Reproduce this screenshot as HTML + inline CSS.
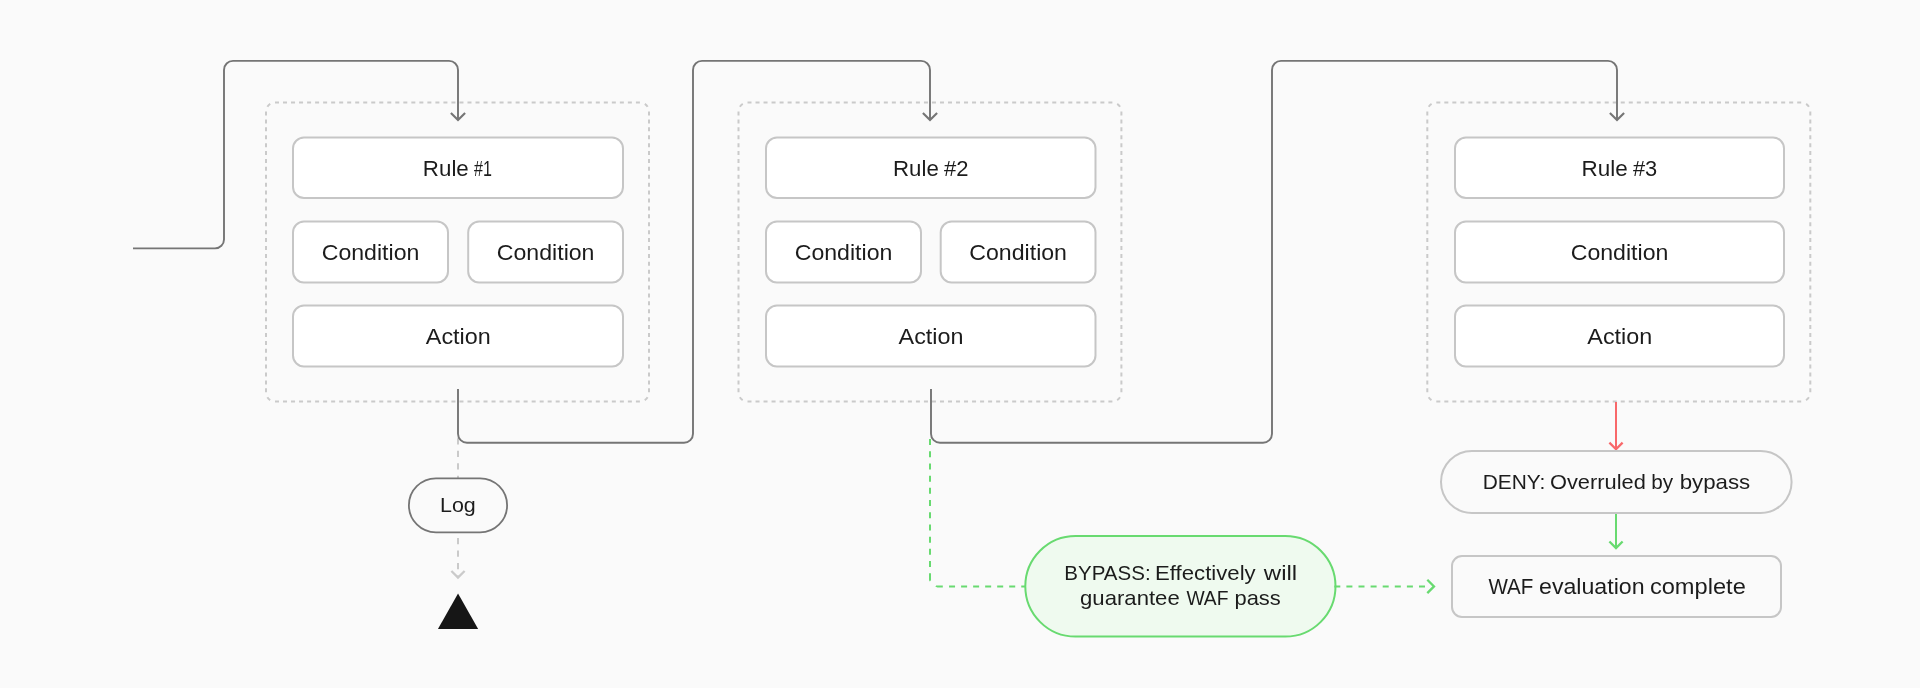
<!DOCTYPE html>
<html><head><meta charset="utf-8"><title>WAF rule evaluation</title>
<style>
html,body{margin:0;padding:0;background:#fafafa;}
body{width:1920px;height:688px;overflow:hidden;}
svg{display:block;will-change:transform;}
text{font-family:"Liberation Sans",sans-serif;fill:#1c1c1c;}
</style></head><body>
<svg width="1920" height="688" viewBox="0 0 1920 688">
<rect width="1920" height="688" fill="#fafafa"/>
<path d="M275 102.5H640" fill="none" stroke="#cacaca" stroke-width="2" stroke-dasharray="4 4.02"/>
<path d="M275 401.5H640" fill="none" stroke="#cacaca" stroke-width="2" stroke-dasharray="4 4.02"/>
<path d="M266 111.5V392.5" fill="none" stroke="#cacaca" stroke-width="2" stroke-dasharray="4 3.91"/>
<path d="M649 111.5V392.5" fill="none" stroke="#cacaca" stroke-width="2" stroke-dasharray="4 3.91"/>
<path d="M266 111.5A9 9 0 0 1 275 102.5" fill="none" stroke="#cacaca" stroke-width="2" stroke-dasharray="0 5.07 4 99"/>
<path d="M640 102.5A9 9 0 0 1 649 111.5" fill="none" stroke="#cacaca" stroke-width="2" stroke-dasharray="0 5.07 4 99"/>
<path d="M649 392.5A9 9 0 0 1 640 401.5" fill="none" stroke="#cacaca" stroke-width="2" stroke-dasharray="0 5.07 4 99"/>
<path d="M275 401.5A9 9 0 0 1 266 392.5" fill="none" stroke="#cacaca" stroke-width="2" stroke-dasharray="0 5.07 4 99"/>
<path d="M747.5 102.5H1112.4" fill="none" stroke="#cacaca" stroke-width="2" stroke-dasharray="4 4.02"/>
<path d="M747.5 401.5H1112.4" fill="none" stroke="#cacaca" stroke-width="2" stroke-dasharray="4 4.02"/>
<path d="M738.5 111.5V392.5" fill="none" stroke="#cacaca" stroke-width="2" stroke-dasharray="4 3.91"/>
<path d="M1121.4 111.5V392.5" fill="none" stroke="#cacaca" stroke-width="2" stroke-dasharray="4 3.91"/>
<path d="M738.5 111.5A9 9 0 0 1 747.5 102.5" fill="none" stroke="#cacaca" stroke-width="2" stroke-dasharray="0 5.07 4 99"/>
<path d="M1112.4 102.5A9 9 0 0 1 1121.4 111.5" fill="none" stroke="#cacaca" stroke-width="2" stroke-dasharray="0 5.07 4 99"/>
<path d="M1121.4 392.5A9 9 0 0 1 1112.4 401.5" fill="none" stroke="#cacaca" stroke-width="2" stroke-dasharray="0 5.07 4 99"/>
<path d="M747.5 401.5A9 9 0 0 1 738.5 392.5" fill="none" stroke="#cacaca" stroke-width="2" stroke-dasharray="0 5.07 4 99"/>
<path d="M1436.3 102.5H1801.3" fill="none" stroke="#cacaca" stroke-width="2" stroke-dasharray="4 4.02"/>
<path d="M1436.3 401.5H1801.3" fill="none" stroke="#cacaca" stroke-width="2" stroke-dasharray="4 4.02"/>
<path d="M1427.3 111.5V392.5" fill="none" stroke="#cacaca" stroke-width="2" stroke-dasharray="4 3.91"/>
<path d="M1810.3 111.5V392.5" fill="none" stroke="#cacaca" stroke-width="2" stroke-dasharray="4 3.91"/>
<path d="M1427.3 111.5A9 9 0 0 1 1436.3 102.5" fill="none" stroke="#cacaca" stroke-width="2" stroke-dasharray="0 5.07 4 99"/>
<path d="M1801.3 102.5A9 9 0 0 1 1810.3 111.5" fill="none" stroke="#cacaca" stroke-width="2" stroke-dasharray="0 5.07 4 99"/>
<path d="M1810.3 392.5A9 9 0 0 1 1801.3 401.5" fill="none" stroke="#cacaca" stroke-width="2" stroke-dasharray="0 5.07 4 99"/>
<path d="M1436.3 401.5A9 9 0 0 1 1427.3 392.5" fill="none" stroke="#cacaca" stroke-width="2" stroke-dasharray="0 5.07 4 99"/>
<rect x="293" y="137.5" width="330" height="60.5" rx="11" ry="11" fill="#fff" stroke="#c6c6c6" stroke-width="2" />
<text x="422.87" y="176" font-size="22.5" textLength="45.9" lengthAdjust="spacingAndGlyphs">Rule</text>
<text x="474.04" y="176" font-size="22.5" textLength="17.86" lengthAdjust="spacingAndGlyphs">#1</text>
<rect x="293" y="221.5" width="155" height="61" rx="11" ry="11" fill="#fff" stroke="#c6c6c6" stroke-width="2" />
<rect x="468.2" y="221.5" width="154.8" height="61" rx="11" ry="11" fill="#fff" stroke="#c6c6c6" stroke-width="2" />
<text x="321.72" y="260" font-size="22.5" textLength="97.68" lengthAdjust="spacingAndGlyphs">Condition</text>
<text x="496.82" y="260" font-size="22.5" textLength="97.68" lengthAdjust="spacingAndGlyphs">Condition</text>
<rect x="293" y="305.5" width="330" height="61" rx="11" ry="11" fill="#fff" stroke="#c6c6c6" stroke-width="2" />
<text x="425.85" y="343.8" font-size="22.5" textLength="64.92" lengthAdjust="spacingAndGlyphs">Action</text>
<rect x="766" y="137.5" width="329.5" height="60.5" rx="11" ry="11" fill="#fff" stroke="#c6c6c6" stroke-width="2" />
<text x="892.97" y="176" font-size="22.5" textLength="45.8" lengthAdjust="spacingAndGlyphs">Rule</text>
<text x="944.01" y="176" font-size="22.5" textLength="24.5" lengthAdjust="spacingAndGlyphs">#2</text>
<rect x="766" y="221.5" width="155" height="61" rx="11" ry="11" fill="#fff" stroke="#c6c6c6" stroke-width="2" />
<rect x="940.7" y="221.5" width="154.8" height="61" rx="11" ry="11" fill="#fff" stroke="#c6c6c6" stroke-width="2" />
<text x="794.72" y="260" font-size="22.5" textLength="97.68" lengthAdjust="spacingAndGlyphs">Condition</text>
<text x="969.32" y="260" font-size="22.5" textLength="97.68" lengthAdjust="spacingAndGlyphs">Condition</text>
<rect x="766" y="305.5" width="329.5" height="61" rx="11" ry="11" fill="#fff" stroke="#c6c6c6" stroke-width="2" />
<text x="898.6" y="343.8" font-size="22.5" textLength="64.92" lengthAdjust="spacingAndGlyphs">Action</text>
<rect x="1455" y="137.5" width="329" height="60.5" rx="11" ry="11" fill="#fff" stroke="#c6c6c6" stroke-width="2" />
<text x="1581.56" y="176" font-size="22.5" textLength="46.17" lengthAdjust="spacingAndGlyphs">Rule</text>
<text x="1632.91" y="176" font-size="22.5" textLength="24.31" lengthAdjust="spacingAndGlyphs">#3</text>
<rect x="1455" y="221.5" width="329" height="61" rx="11" ry="11" fill="#fff" stroke="#c6c6c6" stroke-width="2" />
<text x="1570.72" y="260" font-size="22.5" textLength="97.68" lengthAdjust="spacingAndGlyphs">Condition</text>
<rect x="1455" y="305.5" width="329" height="61" rx="11" ry="11" fill="#fff" stroke="#c6c6c6" stroke-width="2" />
<text x="1587.35" y="343.8" font-size="22.5" textLength="64.92" lengthAdjust="spacingAndGlyphs">Action</text>
<path d="M458 438.3V478" fill="none" stroke="#cacaca" stroke-width="2" stroke-dasharray="6.25 6.25"/>
<path d="M458 537.9V577" fill="none" stroke="#cacaca" stroke-width="2" stroke-dasharray="6.25 6.25"/>
<path d="M451.4 571L458 577.6L464.6 571" fill="none" stroke="#cacaca" stroke-width="2.3"/>
<path d="M930 439.05V579.3" fill="none" stroke="#68da70" stroke-width="2" stroke-dasharray="6 6.2"/>
<path d="M930 578.5V579.4Q930 580.3 930.5 580.7" fill="none" stroke="#68da70" stroke-width="2" />
<path d="M936 585.9Q936.5 586.4 937.5 586.4H942.8" fill="none" stroke="#68da70" stroke-width="2" />
<path d="M949.06 586.4H1025" fill="none" stroke="#68da70" stroke-width="2" stroke-dasharray="6 6.03"/>
<path d="M133 248.4H215a9 9 0 0 0 9 -9V69.9a9 9 0 0 1 9 -9H449a9 9 0 0 1 9 9V119.6" fill="none" stroke="#757575" stroke-width="1.9" />
<path d="M450.9 113L458 120.1L465.1 113" fill="none" stroke="#757575" stroke-width="2.15"/>
<path d="M458 389V433.7a9 9 0 0 0 9 9H684a9 9 0 0 0 9 -9V69.9a9 9 0 0 1 9 -9H921a9 9 0 0 1 9 9V119.6" fill="none" stroke="#757575" stroke-width="1.9" />
<path d="M922.9 113L930 120.1L937.1 113" fill="none" stroke="#757575" stroke-width="2.15"/>
<path d="M931 389V433.7a9 9 0 0 0 9 9H1263a9 9 0 0 0 9 -9V69.9a9 9 0 0 1 9 -9H1608a9 9 0 0 1 9 9V119.6" fill="none" stroke="#757575" stroke-width="1.9" />
<path d="M1609.9 113L1617 120.1L1624.1 113" fill="none" stroke="#757575" stroke-width="2.15"/>
<rect x="408.9" y="478.3" width="98.2" height="54.1" rx="27.05" ry="27.05" fill="#fafafa" stroke="#757575" stroke-width="1.8" />
<text x="439.99" y="512.4" font-size="21" textLength="35.79" lengthAdjust="spacingAndGlyphs">Log</text>
<path d="M458.05 593.5L478.15 629.05H437.95Z" fill="#161616"/>
<rect x="1025.3" y="536" width="310.2" height="100.6" rx="50.3" ry="50.3" fill="#effaef" stroke="#68da70" stroke-width="2" />
<text x="1064.32" y="580" font-size="21" textLength="86.29" lengthAdjust="spacingAndGlyphs">BYPASS:</text>
<text x="1155.08" y="580" font-size="21" textLength="100.56" lengthAdjust="spacingAndGlyphs">Effectively</text>
<text x="1263.77" y="580" font-size="21" textLength="33.43" lengthAdjust="spacingAndGlyphs">will</text>
<text x="1080.07" y="605.4" font-size="21" textLength="99.65" lengthAdjust="spacingAndGlyphs">guarantee</text>
<text x="1186.4" y="605.4" font-size="21" textLength="42.11" lengthAdjust="spacingAndGlyphs">WAF</text>
<text x="1234.47" y="605.4" font-size="21" textLength="46.32" lengthAdjust="spacingAndGlyphs">pass</text>
<path d="M1334.3 586.4H1425" fill="none" stroke="#68da70" stroke-width="2" stroke-dasharray="6 6.1"/>
<path d="M1427.3 579.7L1434 586.4L1427.3 593.1" fill="none" stroke="#68da70" stroke-width="2.3"/>
<path d="M1616 402V450" fill="none" stroke="#f8686a" stroke-width="2" />
<path d="M1609.4 442.6L1616 449.2L1622.6 442.6" fill="none" stroke="#f8686a" stroke-width="2.3"/>
<rect x="1441" y="451" width="350.6" height="61.9" rx="30.95" ry="30.95" fill="#fafafa" stroke="#c6c6c6" stroke-width="2" />
<text x="1482.69" y="488.5" font-size="21" textLength="62.72" lengthAdjust="spacingAndGlyphs">DENY:</text>
<text x="1549.97" y="488.5" font-size="21" textLength="95.81" lengthAdjust="spacingAndGlyphs">Overruled</text>
<text x="1651.25" y="488.5" font-size="21" textLength="21.89" lengthAdjust="spacingAndGlyphs">by</text>
<text x="1679.65" y="488.5" font-size="21" textLength="70.56" lengthAdjust="spacingAndGlyphs">bypass</text>
<path d="M1616 513.9V547.5" fill="none" stroke="#68da70" stroke-width="2" />
<path d="M1609.4 541.5L1616 548.1L1622.6 541.5" fill="none" stroke="#68da70" stroke-width="2.3"/>
<rect x="1452" y="556" width="329" height="60.9" rx="10" ry="10" fill="#fafafa" stroke="#c6c6c6" stroke-width="2" />
<text x="1488.4" y="594.4" font-size="22.5" textLength="44.92" lengthAdjust="spacingAndGlyphs">WAF</text>
<text x="1539.03" y="594.4" font-size="22.5" textLength="105.58" lengthAdjust="spacingAndGlyphs">evaluation</text>
<text x="1649.91" y="594.4" font-size="22.5" textLength="95.9" lengthAdjust="spacingAndGlyphs">complete</text>
</svg>
</body></html>
